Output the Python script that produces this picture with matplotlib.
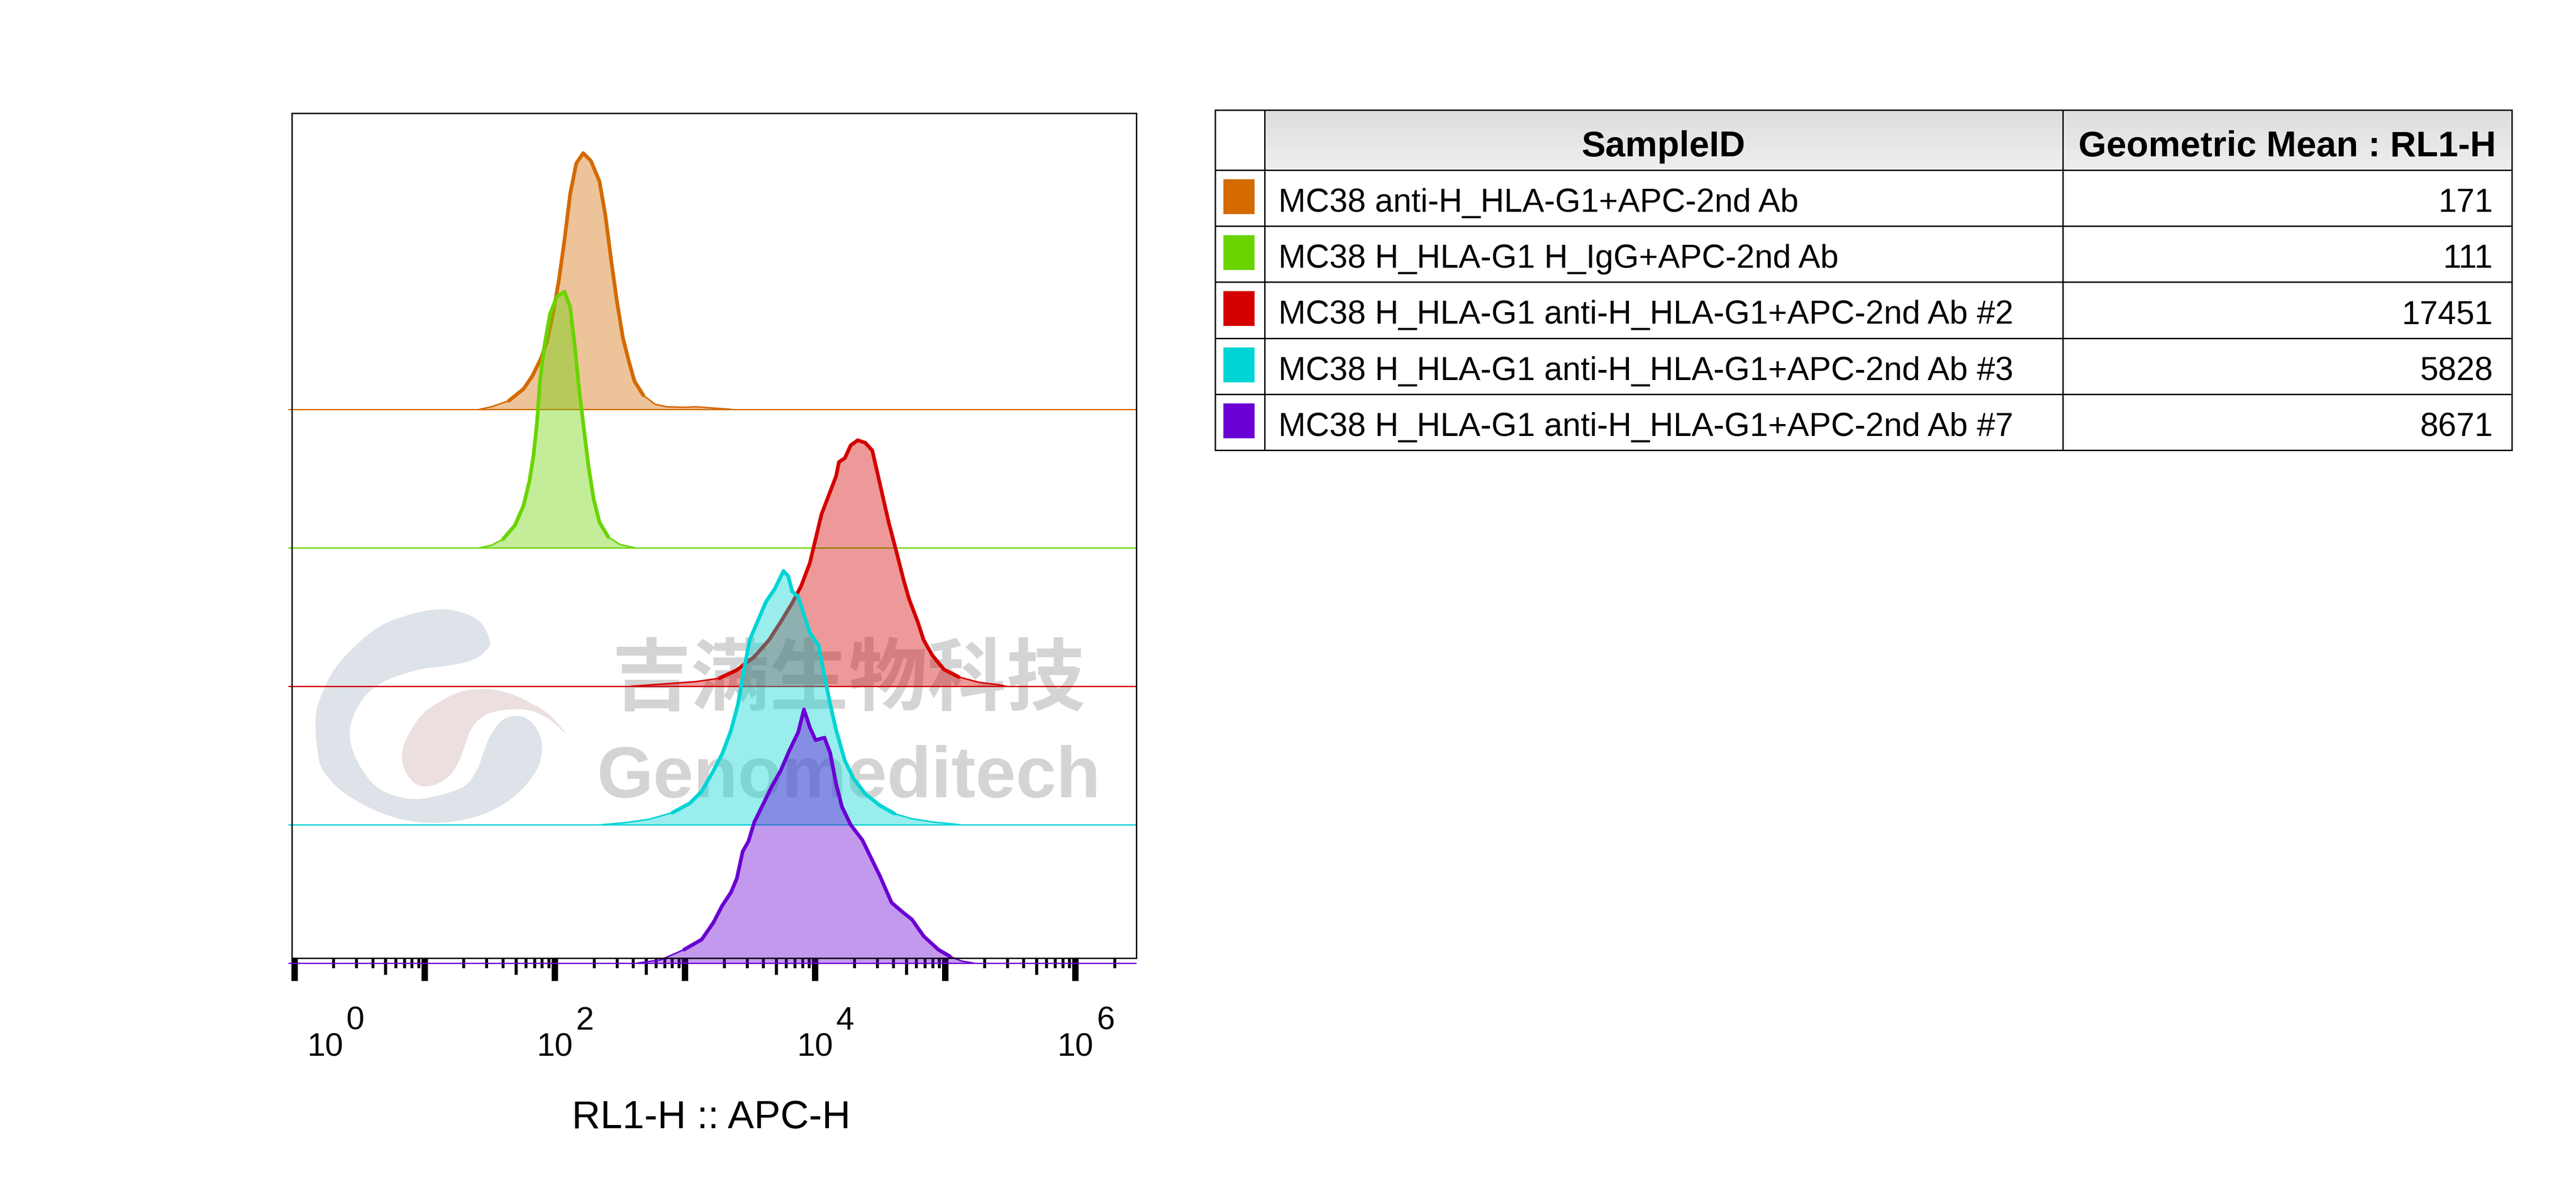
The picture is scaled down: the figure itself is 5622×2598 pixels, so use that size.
import numpy as np
import matplotlib
matplotlib.use("Agg")
import matplotlib.pyplot as plt
import matplotlib.transforms as mtransforms
from matplotlib.patches import Rectangle, Polygon
from matplotlib.lines import Line2D
from matplotlib.ticker import FixedLocator, NullFormatter

plt.rcParams['font.family'] = ['Liberation Sans', 'DejaVu Sans']

# ---------------- data ----------------
sample_ids = [
    "MC38 anti-H_HLA-G1+APC-2nd Ab",
    "MC38 H_HLA-G1 H_IgG+APC-2nd Ab",
    "MC38 H_HLA-G1 anti-H_HLA-G1+APC-2nd Ab #2",
    "MC38 H_HLA-G1 anti-H_HLA-G1+APC-2nd Ab #3",
    "MC38 H_HLA-G1 anti-H_HLA-G1+APC-2nd Ab #7",
]
geo_means = ["171", "111", "17451", "5828", "8671"]
colors = ["#D46A00", "#6AD400", "#D40000", "#00D4D4", "#6A00D4"]

# RL1-H intensity (x) and normalized count (% of mode) (y), per sample
orange_x = [26.5, 32.6, 44.4, 57.5, 67.1, 78.4, 86.9, 96.4, 107, 118.5, 131, 146, 165,
            189, 220, 244, 271, 300, 333, 369, 409, 478, 588, 723, 986, 1211, 1652, 2254]
orange_y = [0, 1, 3.4, 8, 13, 20, 26.5, 37, 50, 66, 84, 96, 100,
            97, 89, 76, 58, 42, 28, 19, 11, 5.5, 2, 1, 0.8, 1.0, 0.5, 0]

green_x = [26.5, 32.6, 40.0, 49.2, 57.5, 63.7, 68.5, 72.9, 76.8, 82.6, 91.5, 103.5, 118.5,
           131, 142.7, 153.4, 166.6, 181, 198.6, 220, 257, 316, 409]
green_y = [0, 1, 3.4, 8.7, 16.5, 26, 36, 49, 65, 78, 91, 98, 100,
           94, 78, 62, 47, 32, 19, 10, 4.2, 1.3, 0]

red_x = [389, 652, 1211, 1832, 2500, 3406, 4413, 5423, 6668, 7785, 9095, 10083, 11173,
         13053, 14480, 15240, 16900, 18750, 21220, 24280, 27480, 31440, 36720, 42860,
         47530, 52710, 61520, 68230, 79640, 97950, 126800, 182000, 261600, 290000]
red_y = [0, 0.8, 1.8, 3.1, 6.3, 11.5, 18, 25, 32.5, 39, 48, 57.5, 67,
         76, 82, 87.5, 89, 94, 96, 95, 92, 79, 64, 51,
         42, 34, 25, 18, 12, 6.5, 3.6, 1.5, 0.5, 0]

cyan_x = [232, 351, 530, 802, 1093, 1343, 1652, 1929, 2254, 2551, 2829, 3134, 3586, 4190,
          4891, 5711, 6205, 6668, 7396, 8204, 9095, 10620, 11780, 13053, 14480, 16900,
          19730, 24280, 31440, 40650, 55500, 83900, 114300, 126800]
cyan_y = [0, 0.8, 2.1, 4.7, 8.4, 13, 21, 27.6, 36.7, 47, 60, 72, 79, 87,
          92, 99, 97, 91, 89, 82, 75, 70, 58, 47, 37, 25,
          18, 12, 7.5, 4.3, 2.3, 0.9, 0.3, 0]

purple_x = [431, 652, 986, 1343, 1652, 1929, 2254, 2500, 2772, 3070, 3406, 3981, 4645,
            5423, 6339, 7396, 8204, 9095, 10083, 11780, 13053, 14480, 16070, 18750, 23070,
            26920, 31440, 38650, 47530, 55500, 68230, 88300, 108700, 133700, 164400]
purple_y = [0, 1.3, 5.3, 9.2, 15.8, 22.4, 27.6, 33, 43.5, 47.5, 55, 62, 69,
            75, 83, 90, 99, 92, 87, 88, 82, 70, 61, 54, 48,
            41, 34, 23.6, 19.7, 17, 10.5, 5.3, 2.6, 0.8, 0]

series_x = [orange_x, green_x, red_x, cyan_x, purple_x]
series_y = [orange_y, green_y, red_y, cyan_y, purple_y]

x_label = "RL1-H :: APC-H"
tick_exponents = [0, 2, 4, 6]
col_headers = ["SampleID", "Geometric Mean : RL1-H"]
watermark_cn = "吉满生物科技"
watermark_en = "Genomeditech"

# ---------------- figure ----------------
W, H = 5622, 2598
DPI = 100
fig = plt.figure(figsize=(W / DPI, H / DPI), dpi=DPI)
fig.patch.set_facecolor("white")
# pixel transform: (x px from left, y px from top)
px = mtransforms.Affine2D().scale(1.0 / W, -1.0 / H).translate(0, 1) + fig.transFigure

ax_l, ax_r, ax_t, ax_b = 637, 2480, 247, 2090
ax = fig.add_axes([ax_l / W, 1 - ax_b / H, (ax_r - ax_l) / W, (ax_b - ax_t) / H])
ax.set_xscale("log")
xmin, xmax = 10 ** -0.021, 10 ** 6.468
ax.set_xlim(xmin, xmax)
ax.set_ylim(0.036, 6.139)
for s in ax.spines.values():
    s.set_linewidth(2.2)
    s.set_color("black")
ax.set_yticks([])

major = [10.0 ** k for k in range(0, 7)]
minor = [m * 10.0 ** k for k in range(0, 7) for m in (2, 3, 4, 6, 7, 8, 9) if m * 10.0 ** k < xmax]
mid = [5 * 10.0 ** k for k in range(0, 7) if 5 * 10.0 ** k < xmax]
ax.xaxis.set_major_locator(FixedLocator(major))
ax.xaxis.set_minor_locator(FixedLocator(minor))
ax.xaxis.set_major_formatter(NullFormatter())
ax.xaxis.set_minor_formatter(NullFormatter())
ax.tick_params(axis="x", which="major", direction="out", length=36, width=10, color="black")
ax.tick_params(axis="x", which="minor", direction="out", length=15.6, width=4.6, color="black")
sec = ax.secondary_xaxis("bottom")
sec.set_xscale("log")
sec.xaxis.set_major_locator(FixedLocator(mid))
sec.xaxis.set_minor_locator(FixedLocator([]))
sec.xaxis.set_major_formatter(NullFormatter())
sec.tick_params(axis="x", which="major", direction="out", length=26, width=4.8, color="black")
sec.spines["bottom"].set_visible(False)

PEAK = 1.851
n = len(series_x)
for i, (xs, ys, c) in enumerate(zip(series_x, series_y, colors)):
    off = n - 1 - i
    xs = np.asarray(xs, float)
    ys = np.asarray(ys, float)
    yy = off + ys / 100.0 * PEAK
    ax.plot([10 ** -0.049, xmax], [off, off], color=c, lw=2.0, clip_on=False, zorder=2 + i * 0.1,
            solid_capstyle="butt")
    ax.fill_between(xs, off, yy, color=c, alpha=0.4, lw=0, clip_on=False, zorder=2 + i * 0.1)
    ax.plot(xs, yy, color=c, lw=2.4, clip_on=False, zorder=2.05 + i * 0.1)
    mask = ys >= 2.5
    idx = np.where(mask)[0]
    if len(idx):
        a, b = idx[0], idx[-1] + 1
        ax.plot(xs[a:b], yy[a:b], color=c, lw=5.8, clip_on=False, zorder=2.06 + i * 0.1,
                solid_joinstyle="round", solid_capstyle="round")

# tick labels "10" + exponent (same size)
for k in tick_exponents:
    dx = 48.2 if k == 0 else 0.0
    ax.annotate("10", xy=(10.0 ** k, 0), xycoords=("data", "axes fraction"),
                xytext=(dx, -153.4), textcoords="offset points",
                ha="center", va="baseline", fontsize=51, annotation_clip=False)
    ax.annotate(str(k), xy=(10.0 ** k, 0), xycoords=("data", "axes fraction"),
                xytext=(dx + 33.0, -112.3), textcoords="offset points",
                ha="left", va="baseline", fontsize=51, annotation_clip=False)

fig.text(1552, 2461, x_label, transform=px, ha="center", va="baseline", fontsize=62)

# ---------------- watermark (beneath the histograms) ----------------
def smooth_closed(pts, n_per=12):
    p = np.asarray(pts, float)
    m = len(p)
    out = []
    for j in range(m):
        p0, p1, p2, p3 = p[(j - 1) % m], p[j], p[(j + 1) % m], p[(j + 2) % m]
        for t in np.linspace(0, 1, n_per, endpoint=False):
            t2, t3 = t * t, t * t * t
            out.append(0.5 * ((2 * p1) + (-p0 + p2) * t + (2 * p0 - 5 * p1 + 4 * p2 - p3) * t2
                              + (-p0 + 3 * p1 - 3 * p2 + p3) * t3))
    return np.array(out)

band = [(1069, 1397), (1040, 1350), (966, 1329), (880, 1345), (813, 1377), (737, 1450),
        (700, 1520), (689, 1567), (692, 1630), (705, 1680), (756, 1733), (851, 1780),
        (947, 1795), (1043, 1780), (1119, 1740), (1169, 1683), (1183, 1633), (1173, 1593),
        (1150, 1568), (1123, 1562), (1095, 1572), (1070, 1605), (1058, 1633), (1039, 1683),
        (1004, 1720), (909, 1743), (832, 1723), (785, 1670), (763, 1600), (786, 1533),
        (832, 1490), (909, 1462), (978, 1452), (1030, 1440), (1060, 1420)]
pink = [(1234, 1600), (1200, 1560), (1157, 1533), (1110, 1512), (1062, 1503), (1010, 1508),
        (966, 1527), (925, 1555), (897, 1593), (880, 1630), (878, 1660), (890, 1692),
        (912, 1712), (936, 1715), (962, 1706), (985, 1688), (1002, 1660), (1012, 1633),
        (1027, 1593), (1045, 1570), (1070, 1555), (1119, 1547), (1160, 1551), (1200, 1570)]
ax.add_patch(Polygon(smooth_closed(band), closed=True, transform=px, facecolor="#dde3e8",
                     edgecolor="none", clip_on=False, zorder=1.5))
ax.add_patch(Polygon(smooth_closed(pink), closed=True, transform=px, facecolor="#ecdfdf",
                     edgecolor="none", clip_on=False, zorder=1.6))

ax.text(1852, 1536, watermark_cn, transform=px, ha="center", va="baseline", fontsize=124,
        fontweight="heavy", color="#d4d4d4", zorder=1.7,
        family=["Noto Sans CJK SC", "DejaVu Sans"])
ax.text(1852, 1739, watermark_en, transform=px, ha="center", va="baseline", fontsize=114,
        fontweight="bold", color="#d4d4d4", zorder=1.7)

# ---------------- table ----------------
t_left, t_c1, t_c2, t_right = 2652, 2760, 4502, 5482
t_top, h_bot = 240, 371
row_h = 122.2
rows_y = [h_bot + i * row_h for i in range(len(sample_ids) + 1)]

# header gradient
nstrip = 40
for s in range(nstrip):
    y0 = t_top + (h_bot - t_top) * s / nstrip
    g = 0.863 + (0.935 - 0.863) * s / (nstrip - 1)
    fig.add_artist(Rectangle((t_c1, y0), t_right - t_c1, (h_bot - t_top) / nstrip + 0.5,
                             transform=px, facecolor=(g, g, g), edgecolor="none"))

lw_t = 2.2
for y in [t_top] + rows_y:
    fig.add_artist(Line2D([t_left, t_right], [y, y], transform=px, color="black", lw=lw_t,
                          solid_capstyle="projecting"))
for x in [t_left, t_c1, t_c2, t_right]:
    fig.add_artist(Line2D([x, x], [t_top, rows_y[-1]], transform=px, color="black", lw=lw_t,
                          solid_capstyle="projecting"))

fig.text((t_c1 + t_c2) / 2, 341, col_headers[0], transform=px, ha="center", va="baseline",
         fontsize=56.5, fontweight="bold")
fig.text((t_c2 + t_right) / 2, 341, col_headers[1], transform=px, ha="center", va="baseline",
         fontsize=56.5, fontweight="bold")

for i, (sid, gm, c) in enumerate(zip(sample_ids, geo_means, colors)):
    top = rows_y[i]
    fig.add_artist(Rectangle((2670, top + 20), 68, 76, transform=px, facecolor=c, edgecolor="none"))
    fig.text(2790, top + 91, sid, transform=px, ha="left", va="baseline", fontsize=51.5)
    fig.text(5441, top + 91, gm, transform=px, ha="right", va="baseline", fontsize=51.5)

fig.savefig("out.png", dpi=DPI, facecolor="white")
